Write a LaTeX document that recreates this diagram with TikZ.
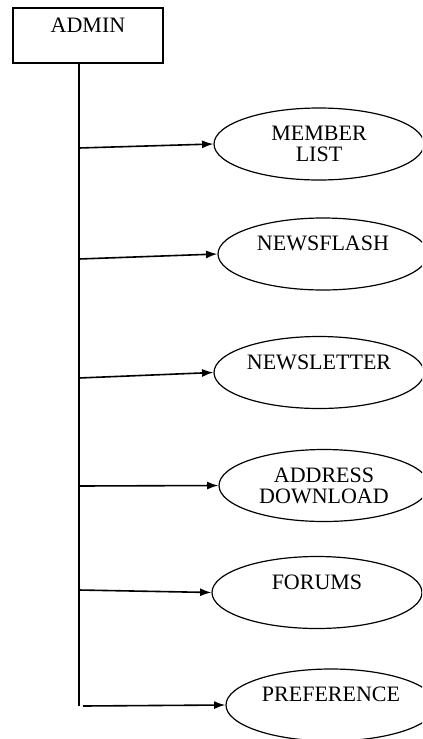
\documentclass[tikz,border=0pt]{standalone}
\usepackage{fontspec}
\setmainfont{Liberation Serif}
\usetikzlibrary{shapes.geometric,arrows.meta}
\tikzset{
  usecase/.style={draw,ellipse,line width=0.9pt,inner sep=0pt,minimum width=157.5pt,minimum height=54pt,align=center,font=\fontsize{16.5}{15.75}\selectfont},
  actorbox/.style={draw,rectangle,line width=1.4pt,inner sep=0pt,minimum width=112.5pt,minimum height=41.25pt,align=center,font=\fontsize{16.5}{15.75}\selectfont},
  link/.style={line width=1.2pt,-{Latex[length=8.5pt,width=6pt]}}
}
\begin{document}
\begin{tikzpicture}[x=0.75pt,y=-0.75pt]
    \clip (0,0) rectangle (422,739);
    \node[actorbox] (admin) at (88,35.5) {ADMIN\\ \mbox{}};
    \coordinate (tb) at (79,706);
    \draw[line width=1.4pt] (admin.south -| tb) -- (tb);
    % use cases
    \node[usecase] (member) at (319,144) {MEMBER\\ LIST};
    \node[usecase] (flash) at (323,254) {NEWSFLASH\\ \mbox{}};
    \node[usecase] (letter) at (319,372.5) {NEWSLETTER\\ \mbox{}};
    \node[usecase] (address) at (324,485.5) {ADDRESS\\ DOWNLOAD};
    \node[usecase] (forums) at (317,592.5) {FORUMS\\ \mbox{}};
    \node[usecase] (pref) at (331,705) {PREFERENCE\\ \mbox{}};
    % branches off the trunk
    \coordinate (t1) at (79,148);
    \coordinate (t2) at (79,259);
    \coordinate (t3) at (79,378);
    \coordinate (t4) at (79,486);
    \coordinate (t5) at (79,590);
    \coordinate (t6) at (83,706);
    \draw[link] (t1) -- (member.west);
    \draw[link] (t2) -- (flash.west);
    \draw[link] (t3) -- (letter.west);
    \draw[link] (t4) -- (address.west);
    \draw[link] (t5) -- (forums.west);
    \draw[link] (t6) -- (pref.west);
\end{tikzpicture}
\end{document}
